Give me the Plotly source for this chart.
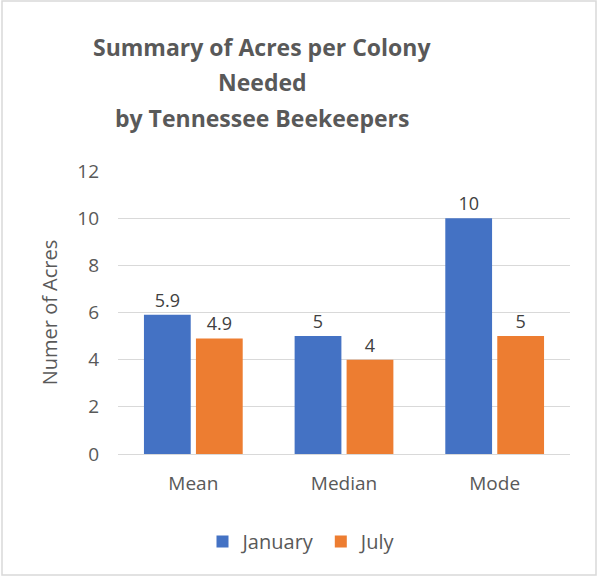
import plotly.graph_objects as go

# data
categories = ['Mean', 'Median', 'Mode']
january = [5.9, 5, 10]
july = [4.9, 4, 5]
y_ticks = [0, 2, 4, 6, 8, 10, 12]
title_lines = ['Summary of Acres per Colony', 'Needed', 'by Tennessee Beekeepers']

FONT = 'Open Sans'
GREY = '#595959'

# plot area in pixels (left, right, top, bottom)
L, R, T, B = 118, 570, 171, 454
W, H = 598, 577
PW, PH = R - L, B - T


def px_x(x):
    return (x - L) / PW


def px_y(y):
    return (B - y) / PH


fig = go.Figure()

fig.add_trace(go.Bar(
    x=categories, y=january, name='January',
    marker=dict(color='#4472C4', line=dict(width=0)),
    text=[str(v) for v in january], textposition='outside',
    textfont=dict(size=18, color='#404040', family=FONT),
    cliponaxis=False,
))
fig.add_trace(go.Bar(
    x=categories, y=july, name='July',
    marker=dict(color='#ED7D31', line=dict(width=0)),
    text=[str(v) for v in july], textposition='outside',
    textfont=dict(size=18, color='#404040', family=FONT),
    cliponaxis=False,
))

# title as three separate lines (centred a bit left of the page middle)
title_y = [47, 82, 118]
annotations = []
for line, ypix in zip(title_lines, title_y):
    annotations.append(dict(
        text='<b>' + line + '</b>', xref='paper', yref='paper',
        x=px_x(262), y=px_y(ypix), xanchor='center', yanchor='middle',
        showarrow=False, font=dict(size=23, color=GREY, family=FONT),
    ))

fig.update_layout(
    width=W, height=H,
    autosize=False,
    paper_bgcolor='white',
    plot_bgcolor='white',
    font=dict(family=FONT, color=GREY),
    margin=dict(l=L, r=W - R, t=T, b=H - B),
    barmode='group',
    bargap=0.31,
    bargroupgap=0.1,
    xaxis=dict(
        showgrid=False, showline=False, ticks='',
        tickfont=dict(size=19, color=GREY),
        ticklabelstandoff=16,
    ),
    yaxis=dict(
        range=[0, 12], tickvals=y_ticks,
        showgrid=True, gridcolor='#D9D9D9', gridwidth=1,
        zeroline=True, zerolinecolor='#D9D9D9', zerolinewidth=1,
        showline=False, ticks='',
        tickfont=dict(size=19, color=GREY),
        ticklabelstandoff=18,
        title=dict(text='Numer of Acres', font=dict(size=20, color=GREY), standoff=14),
    ),
    legend=dict(
        orientation='h', x=px_x(302), xanchor='center', y=-0.24, yanchor='top',
        font=dict(size=20, color=GREY),
        itemwidth=30,
    ),
    annotations=annotations,
    shapes=[dict(
        type='rect', xref='paper', yref='paper',
        x0=px_x(2), x1=px_x(596), y0=px_y(575), y1=px_y(1),
        line=dict(color='#D9D9D9', width=1.5), fillcolor='rgba(0,0,0,0)',
        layer='below',
    )],
)

fig.write_html('out.html', config={'displayModeBar': False},
               post_script="document.body.style.margin='0';")
